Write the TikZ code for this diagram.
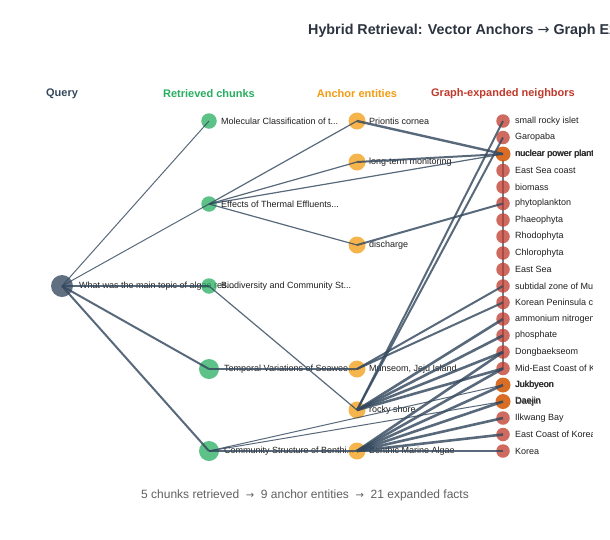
\documentclass[tikz,border=0pt]{standalone}
\usepackage{fontspec}
\setmainfont{Liberation Sans}
\newfontfamily\arrowfont{DejaVu Sans}
\definecolor{qcol}{HTML}{34495E}
\definecolor{ccol}{HTML}{27AE60}
\definecolor{acol}{HTML}{F39C12}
\definecolor{ncol}{HTML}{C0392B}
\definecolor{hcol}{HTML}{D35400}
\definecolor{ecol}{HTML}{34495E}
\definecolor{tcol}{HTML}{2C3440}
\begin{document}
\begin{tikzpicture}[x=1pt,y=-1pt,
  dot/.style={circle, inner sep=0pt, minimum size=#1},
  qdot/.style={dot=22pt, fill=qcol, fill opacity=0.78},
  cdot/.style={dot=#1, fill=ccol, fill opacity=0.75},
  adot/.style={dot=17pt, fill=acol, fill opacity=0.75},
  ndot/.style={dot=13.5pt, fill=ncol, fill opacity=0.75},
  hdot/.style={dot=15pt, fill=hcol, fill opacity=0.85},
  lbl/.style={anchor=west, inner sep=0pt, text=black!88, font=\fontsize{9}{10}\selectfont},
  hdr/.style={inner sep=0pt, font=\bfseries\fontsize{11}{12}\selectfont},
  edge/.style={draw=ecol, draw opacity=0.82, line width=#1},
  edge/.default=1.2pt
]
\useasboundingbox (0,0) rectangle (610,539);
\fill[white] (0,0) rectangle (610,539);

% title and headers
\node[anchor=west, inner sep=0pt, text=tcol, font=\bfseries\fontsize{14.3}{16}\selectfont] (title) at (308,31) {Hybrid Retrieval: Vector Anchors {\arrowfont\mdseries →} Graph Expansion};
\node[hdr, text=qcol] (hq) at (62,94) {Query};
\node[hdr, text=ccol] (hc) at (209,94) {Retrieved chunks};
\node[hdr, text=acol] (ha) at (357,94) {Anchor entities};
\node[hdr, text=ncol] (hn) at (503,94) {Graph-expanded neighbors};

% query
\node[qdot] (q) at (62,286) {};
\node[lbl] (ql) at (79,286) {What was the main topic of algae res...};

% chunks
\node[cdot=15.5pt] (c1) at (209,121) {};
\node[lbl] (c1l) at (221,121) {Molecular Classification of t...};
\node[cdot=15.5pt] (c2) at (209,204) {};
\node[lbl] (c2l) at (221,204) {Effects of Thermal Effluents...};
\node[cdot=15.5pt] (c3) at (209,286) {};
\node[lbl] (c3l) at (221,286) {Biodiversity and Community St...};
\node[cdot=20pt] (c4) at (209,369) {};
\node[lbl] (c4l) at (224,369) {Temporal Variations of Seawee...};
\node[cdot=20pt] (c5) at (209,451) {};
\node[lbl] (c5l) at (224,451) {Community Structure of Benthi...};

% anchors
\node[adot] (a1) at (357,121) {};
\node[lbl] (a1l) at (369,121) {Priontis cornea};
\node[adot] (a2) at (357,162) {};
\node[lbl] (a2l) at (369,162) {long-term monitoring};
\node[adot] (a3) at (357,245) {};
\node[lbl] (a3l) at (369,245) {discharge};
\node[adot] (a4) at (357,369) {};
\node[lbl] (a4l) at (369,369) {Munseom, Jeju Island};
\node[adot] (a5) at (357,410) {};
\node[lbl] (a5l) at (369,410) {rocky shore};
\node[adot] (a6) at (357,451) {};
\node[lbl] (a6l) at (369,451) {Benthic Marine Algae};

% vertical link along the neighbor column
\draw[edge=1.3pt, draw opacity=0.7] (503,160) coordinate (vtop) -- (503,369) coordinate (vbot);

% neighbors
\node[ndot] (n1) at (503,121) {};
\node[ndot] (n2) at (503,137.5) {};
\node[hdot] (n3) at (503,154) {};
\node[ndot] (n4) at (503,170.5) {};
\node[ndot] (n5) at (503,187) {};
\node[ndot] (n6) at (503,203.5) {};
\node[ndot] (n7) at (503,220) {};
\node[ndot] (n8) at (503,236.5) {};
\node[ndot] (n9) at (503,253) {};
\node[ndot] (n10) at (503,269.5) {};
\node[ndot] (n11) at (503,286) {};
\node[ndot] (n12) at (503,302.5) {};
\node[ndot] (n13) at (503,319) {};
\node[ndot] (n14) at (503,335.5) {};
\node[ndot] (n15) at (503,352) {};
\node[ndot] (n16) at (503,368.5) {};
\node[hdot] (n17) at (503,385) {};
\node[hdot] (n18) at (503,401.5) {};
\node[ndot] (n19) at (503,418) {};
\node[ndot] (n20) at (503,434.5) {};
\node[ndot] (n21) at (503,451) {};

\begin{scope}
\clip (0,0) rectangle (592,539);
\node[lbl] (n1l) at (515,121) {small rocky islet};
\node[lbl] (n2l) at (515,137.5) {Garopaba};
\node[lbl] (n3l) at (515,154) {nuclear power plant};
\node[lbl] (n3m) at (515.5,154.3) {nuclear power plant};
\node[lbl] (n4l) at (515,170.5) {East Sea coast};
\node[lbl] (n5l) at (515,187) {biomass};
\node[lbl] (n6l) at (515,203.5) {phytoplankton};
\node[lbl] (n7l) at (515,220) {Phaeophyta};
\node[lbl] (n8l) at (515,236.5) {Rhodophyta};
\node[lbl] (n9l) at (515,253) {Chlorophyta};
\node[lbl] (n10l) at (515,269.5) {East Sea};
\node[lbl] (n11l) at (515,286) {subtidal zone of Munseom};
\node[lbl] (n12l) at (515,302.5) {Korean Peninsula coast};
\node[lbl] (n13l) at (515,319) {ammonium nitrogen};
\node[lbl] (n14l) at (515,335.5) {phosphate};
\node[lbl] (n15l) at (515,352) {Dongbaekseom};
\node[lbl] (n16l) at (515,368.5) {Mid-East Coast of Korea};
\node[lbl] (n17l) at (515,385) {Jukbyeon};
\node[lbl] (n17m) at (515.5,385.3) {Jukbyeon};
\node[lbl] (n18l) at (515,401.5) {Daejin};
\node[lbl] (n18m) at (515.5,401.8) {Daejin};
\node[lbl] (n19l) at (515,418) {Ilkwang Bay};
\node[lbl] (n20l) at (515,434.5) {East Coast of Korea};
\node[lbl] (n21l) at (515,451) {Korea};
\end{scope}

% query -> chunks
\draw[edge=1pt] (q.center) -- (c1.center);
\draw[edge=1pt] (q.center) -- (c2.center);
\draw[edge=1.2pt] (q.center) -- (c3.center);
\draw[edge=2pt] (q.center) -- (c4.center);
\draw[edge=2pt] (q.center) -- (c5.center);

% chunks -> anchors
\draw[edge] (c2.center) -- (a1.center);
\draw[edge] (c2.center) -- (a2.center);
\draw[edge] (c2.center) -- (n3.center);
\draw[edge] (c2.center) -- (a3.center);
\draw[edge] (c3.center) -- (a5.center);
\draw[edge] (c4.center) -- (a4.center);
\draw[edge] (c5.center) -- (a6.center);
\draw[edge=1pt] (c5.center) -- (n17.center);
\draw[edge=1pt] (c5.center) -- (n18.center);

% anchors -> neighbors
\draw[edge=2.4pt] (a1.center) -- (n3.center);
\draw[edge=2pt] (a2.center) -- (n3.center);
\draw[edge=2pt] (a3.center) -- (n6.center);
\draw[edge=2pt] (a4.center) -- (n11.center);
\draw[edge=2pt] (a4.center) -- (n12.center);
\draw[edge=2pt] (a5.center) -- (n1.center);
\draw[edge=2pt] (a5.center) -- (n2.center);
\draw[edge=2.6pt] (a5.center) -- (n13.center);
\draw[edge=2.6pt] (a5.center) -- (n14.center);
\draw[edge=2.6pt] (a5.center) -- (n15.center);
\draw[edge=2.6pt] (a5.center) -- (n16.center);
\draw[edge=2.6pt] (a6.center) -- (n15.center);
\draw[edge=2.6pt] (a6.center) -- (n16.center);
\draw[edge=2.6pt] (a6.center) -- (n17.center);
\draw[edge=2.6pt] (a6.center) -- (n18.center);
\draw[edge=2.6pt] (a6.center) -- (n19.center);
\draw[edge=2.6pt] (a6.center) -- (n20.center);
\draw[edge=2.8pt] (a6.center) -- (n21.center);

% summary
\node[inner sep=0pt, text=black!62, font=\fontsize{12}{14}\selectfont] (sum) at (305,495) {5 chunks retrieved \ {\arrowfont\fontsize{10}{12}\selectfont →} \ 9 anchor entities \ {\arrowfont\fontsize{10}{12}\selectfont →} \ 21 expanded facts};
\end{tikzpicture}
\end{document}
